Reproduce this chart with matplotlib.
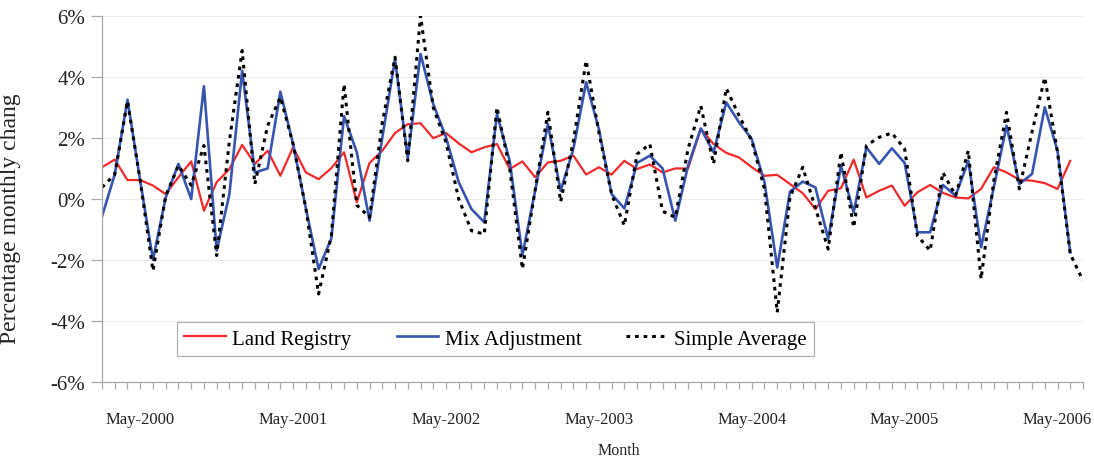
import numpy as np
import pandas as pd
import matplotlib
matplotlib.use('Agg')
import matplotlib.pyplot as plt
from matplotlib.ticker import FuncFormatter

plt.rcParams['font.family'] = ['Liberation Serif', 'DejaVu Serif']

# monthly categories: Feb-2000 .. Jul-2006
meses = pd.date_range('2000-02-01', periods=78, freq='MS')

land_registry = [1.04, 1.29, 0.62, 0.62, 0.44, 0.16, 0.71, 1.23, -0.38, 0.55,
                 0.98, 1.77, 1.15, 1.58, 0.76, 1.69, 0.87, 0.65, 1.01, 1.53,
                 -0.11, 1.18, 1.58, 2.16, 2.45, 2.48, 1.99, 2.16, 1.82, 1.53,
                 1.69, 1.80, 0.98, 1.23, 0.71, 1.20, 1.25, 1.42, 0.80, 1.04,
                 0.80, 1.25, 0.98, 1.13, 0.87, 1.00, 1.00, 2.30, 1.80, 1.51,
                 1.36, 1.04, 0.76, 0.79, 0.49, 0.19, -0.33, 0.27, 0.35, 1.29,
                 0.05, 0.27, 0.44, -0.22, 0.22, 0.46, 0.20, 0.05, 0.02, 0.33,
                 1.04, 0.87, 0.63, 0.60, 0.52, 0.33, 1.25]

mix_adjustment = [-0.57, 0.80, 3.25, 0.60, -1.99, 0.05, 1.15, 0.00, 3.69, -1.69,
                  0.16, 4.20, 0.87, 1.00, 3.51, 1.80, -0.30, -2.29, -1.29, 2.71,
                  1.53, -0.71, 2.00, 4.58, 1.33, 4.75, 3.11, 2.02, 0.55, -0.33,
                  -0.76, 2.78, 1.25, -1.83, 0.27, 2.45, 0.27, 1.64, 3.82, 2.29,
                  0.16, -0.31, 1.18, 1.42, 1.00, -0.71, 1.09, 2.31, 1.53, 3.16,
                  2.51, 1.96, 0.55, -2.24, 0.24, 0.57, 0.38, -1.31, 1.09, -0.44,
                  1.69, 1.15, 1.66, 1.18, -1.09, -1.09, 0.46, 0.11, 1.25, -1.58,
                  0.38, 2.40, 0.49, 0.82, 3.00, 1.58, -1.75]

simple_average = [0.38, 0.80, 3.20, 0.60, -2.35, 0.10, 1.10, 0.45, 1.75, -1.85,
                  1.90, 4.86, 0.49, 2.40, 3.33, 1.80, -0.30, -3.11, -1.20, 3.76,
                  -0.20, -0.60, 2.50, 4.64, 1.25, 6.00, 3.00, 1.85, 0.00, -1.04,
                  -1.15, 3.00, 1.00, -2.29, 0.30, 2.84, -0.09, 1.90, 4.53, 2.18,
                  0.16, -0.87, 1.47, 1.80, -0.40, -0.60, 1.64, 3.05, 1.15, 3.62,
                  2.73, 1.91, 0.33, -3.71, 0.05, 1.04, -0.30, -1.64, 1.53, -0.93,
                  1.75, 2.02, 2.16, 1.64, -1.20, -1.69, 0.87, 0.11, 1.58, -2.62,
                  0.60, 2.84, 0.33, 2.20, 3.98, 1.53, -1.80, -2.67]

x_todos = np.arange(len(meses))

fig = plt.figure(figsize=(10.94, 4.64), dpi=100)
ax = fig.add_axes([102/1094, 1 - 383.3/464, 981/1094, 366.6/464])

ax.plot(x_todos[:len(land_registry)], land_registry, color='#f02a2a', lw=1.6, label='Land Registry')
ax.plot(x_todos[:len(mix_adjustment)], mix_adjustment, color='#3655b0', lw=1.9, label='Mix Adjustment')
ax.plot(x_todos[:len(simple_average)], simple_average, color='black', lw=2.2,
        linestyle=(0, (1.2, 1.6)), label='Simple Average')

ax.set_xlim(0, len(meses) - 1)
ax.set_ylim(-6, 6)
ax.set_yticks(np.arange(-6, 7, 2))
ax.yaxis.set_major_formatter(FuncFormatter(lambda v, p: '%d%%' % v))
ax.grid(axis='y', color='#ececec', lw=0.8)
ax.set_axisbelow(True)

rotulos = [m.strftime('%b-%Y') if m.month == 5 else '' for m in meses]
ax.set_xticks(x_todos)
ax.set_xticklabels(rotulos)

for lado in ['top', 'right']:
    ax.spines[lado].set_visible(False)
for lado in ['left', 'bottom']:
    ax.spines[lado].set_color('#a8a8a8')
    ax.spines[lado].set_linewidth(0.9)

ax.tick_params(axis='y', colors='#a8a8a8', length=8, width=0.9, labelsize=15,
               labelcolor='#222222', pad=4)
ax.tick_params(axis='x', colors='#a8a8a8', length=5, width=0.9, labelsize=12,
               labelcolor='#222222', pad=16)

ax.set_ylabel('Percentage monthly chang', fontsize=17, color='#222222')
ax.yaxis.set_label_coords(-0.083, 0.45)
ax.set_xlabel('Month', fontsize=11.5, color='#222222')
ax.xaxis.set_label_coords(0.527, -0.163)

leg = ax.legend(ncol=3, loc='lower left', bbox_to_anchor=(0.0765, 0.0717, 0.6495, 0.106),
                mode='expand', borderaxespad=0, fontsize=15, handlelength=2.0,
                handletextpad=0.3, columnspacing=1.6, borderpad=0.35,
                fancybox=False, framealpha=1, edgecolor='#b0b0b0')
leg.get_frame().set_linewidth(0.9)

plt.savefig('out.png', dpi=100)
